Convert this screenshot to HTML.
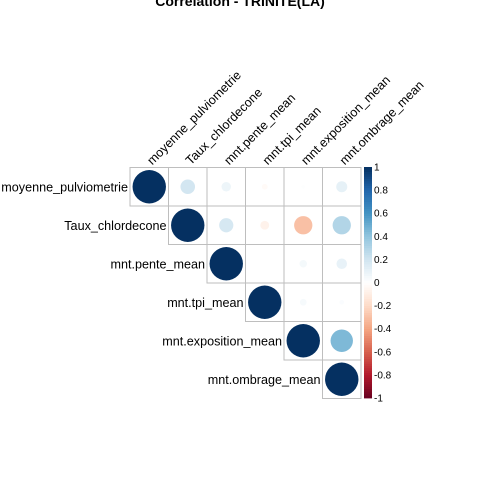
<!DOCTYPE html>
<html><head><meta charset="utf-8"><style>
html,body{margin:0;padding:0;background:#fff;}
svg{display:block;font-family:"Liberation Sans",Arial,sans-serif;}
</style></head><body>
<svg id="c" width="480" height="480">
<text x="240" y="6" text-anchor="middle" font-weight="bold" font-size="14">Correlation - TRINITE(LA)</text>
</svg>
<script>
const variables = ["moyenne_pulviometrie","Taux_chlordecone","mnt.pente_mean","mnt.tpi_mean","mnt.exposition_mean","mnt.ombrage_mean"];
const corrRow0 = [1, 0.19, 0.08, -0.03, 0.01, 0.11];
const corrRow1 = [0.19, 1, 0.18, -0.07, -0.3, 0.3];
const corrRow2 = [0.08, 0.18, 1, 0, 0.05, 0.1];
const corrRow3 = [-0.03, -0.07, 0, 1, 0.04, 0.02];
const corrRow4 = [0.01, -0.3, 0.05, 0.04, 1, 0.45];
const corrRow5 = [0.11, 0.3, 0.1, 0.02, 0.45, 1];
const colorbarTicks = ["-1","-0.8","-0.6","-0.4","-0.2","0","0.2","0.4","0.6","0.8","1"];
const matrix = [corrRow0,corrRow1,corrRow2,corrRow3,corrRow4,corrRow5];
const pal = ["#67001F","#B2182B","#D6604D","#F4A582","#FDDBC7","#FFFFFF","#D1E5F0","#92C5DE","#4393C3","#2166AC","#053061"];
function hex(h){return [1,3,5].map(i=>parseInt(h.substr(i,2),16));}
function color(v){const t=(v+1)/2*10;const i=Math.min(9,Math.floor(t));const f=t-i;const a=hex(pal[i]),b=hex(pal[i+1]);
return "rgb("+a.map((x,k)=>Math.round(x+(b[k]-x)*f)).join(",")+")";}
const svg=document.getElementById('c');const NS="http://www.w3.org/2000/svg";
function mk(tag,attrs){const e=document.createElementNS(NS,tag);for(const k in attrs)e.setAttribute(k,attrs[k]);svg.appendChild(e);return e;}
const x0=130,y0=167.5,cs=38.5,n=variables.length;
const xPos=j=>x0+j*cs, yPos=i=>y0+i*cs;
for(let i=0;i<n;i++){
  for(let j=i;j<n;j++){
    const r=mk('rect',{x:xPos(j),y:yPos(i),width:cs,height:cs,fill:'#fff',stroke:'#BEBEBE','stroke-width':1});
    
    
    const v=matrix[i][j];
    if(v!==0){
      const c=mk('circle',{cx:xPos(j)+cs/2,cy:yPos(i)+cs/2,r:16.7*Math.sqrt(Math.abs(v)),fill:color(v)});
      
      
    }
  }
  const t=mk('text',{x:xPos(i)-2,y:yPos(i)+cs/2+4.5,'text-anchor':'end','font-size':12.6});
  t.textContent=variables[i];
  
  
  const cx=xPos(i)+cs/2+3, cy=y0-2;
  const ct=mk('text',{x:cx,y:cy,'font-size':12.6,transform:'rotate(-45 '+cx+' '+cy+')'});
  ct.textContent=variables[i];
  
  
}
// colorbar
const bx=364,bw=8,bt=167,bb=398,steps=100;
for(let k=0;k<steps;k++){
  const v=-1+2*(k+0.5)/steps;const h=(bb-bt)/steps;
  const r=mk('rect',{x:bx,y:bb-(k+1)*h,width:bw,height:h+0.4,fill:color(v)});
  
  
}
colorbarTicks.forEach((lab,k)=>{
  const y=bb-(bb-bt)*(parseFloat(lab)+1)/2;
  const t=mk('text',{x:bx+bw+2,y:y+3.5,'font-size':10});
  t.textContent=lab;
  
  
});
</script>
</body></html>
